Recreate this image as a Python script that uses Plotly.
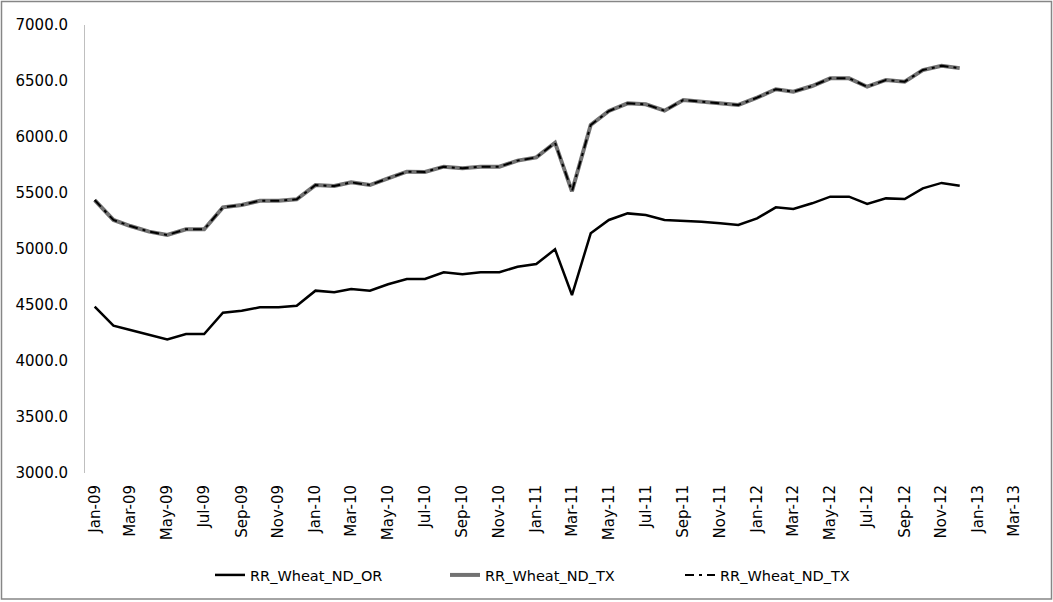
import plotly.graph_objects as go
import pandas as pd

months = pd.date_range("2009-01-01", "2012-12-01", freq="MS").strftime("%Y-%m-%d").tolist()

nd_or = [4485, 4315, 4277, 4232, 4193, 4241, 4241, 4431, 4449, 4479, 4479, 4494,
         4628, 4613, 4643, 4628, 4685, 4732, 4732, 4792, 4774, 4792, 4792, 4842,
         4866, 4997, 4589, 5140, 5259, 5318, 5304, 5259, 5253, 5244, 5229, 5214,
         5274, 5372, 5357, 5408, 5467, 5467, 5402, 5452, 5446, 5542, 5590, 5565]

nd_tx = [5437, 5259, 5205, 5155, 5125, 5176, 5176, 5372, 5393, 5431, 5431, 5444,
         5571, 5562, 5595, 5571, 5631, 5690, 5688, 5735, 5720, 5735, 5735, 5789,
         5818, 5949, 5515, 6107, 6232, 6301, 6292, 6235, 6330, 6315, 6301, 6286,
         6351, 6426, 6405, 6455, 6524, 6524, 6449, 6509, 6494, 6598, 6635, 6615]

series_names = ["RR_Wheat_ND_OR", "RR_Wheat_ND_TX", "RR_Wheat_ND_TX"]

y_ticks = [3000, 3500, 4000, 4500, 5000, 5500, 6000, 6500, 7000]

L, R, T, B = 85, 11, 25, 129
FW, FH = 1053, 602
W = FW - L - R
H = FH - T - B

fig = go.Figure()
fig.add_trace(go.Scatter(x=months, y=nd_or, name=series_names[0], mode="lines",
                         line=dict(color="#000000", width=2.5)))
fig.add_trace(go.Scatter(x=months, y=nd_tx, name=series_names[1], mode="lines",
                         line=dict(color="#727272", width=4)))
fig.add_trace(go.Scatter(x=months, y=nd_tx, name=series_names[2], mode="lines",
                         line=dict(color="#000000", width=2, dash="9px,5px,3px,5px")))

fig.update_layout(
    width=FW, height=FH,
    margin=dict(l=L, r=R, t=T, b=B),
    paper_bgcolor="white", plot_bgcolor="white",
    font=dict(family="DejaVu Sans", size=14, color="#000000"),
    showlegend=True,
    legend=dict(orientation="h", x=(210 - L) / W, xanchor="left",
                y=(T + H - 575) / H, yanchor="middle",
                entrywidth=190, font=dict(size=14.5), bgcolor="rgba(0,0,0,0)"),
    xaxis=dict(type="date", range=["2008-12-16", "2013-04-16"],
               tick0="2009-01-01", dtick="M2", tickformat="%b-%y",
               tickangle=-90, showgrid=False, zeroline=False, showline=False,
               ticks="", ticklabelstandoff=8, tickfont=dict(size=15)),
    yaxis=dict(range=[3000, 7000], tickvals=y_ticks, tickformat=".1f",
               showgrid=False, zeroline=False, showline=True, linecolor="#bfbfbf",
               linewidth=1, ticks="", ticklabelstandoff=13, tickfont=dict(size=15)),
    shapes=[dict(type="rect", xref="paper", yref="paper",
                 x0=(1.5 - L) / W, x1=(FW - 1.5 - L) / W,
                 y0=(T + H - (FH - 3)) / H, y1=(T + H - 1.5) / H,
                 line=dict(color="#868686", width=1.5), fillcolor="rgba(0,0,0,0)",
                 layer="below")],
)

fig.write_html("out.html")
